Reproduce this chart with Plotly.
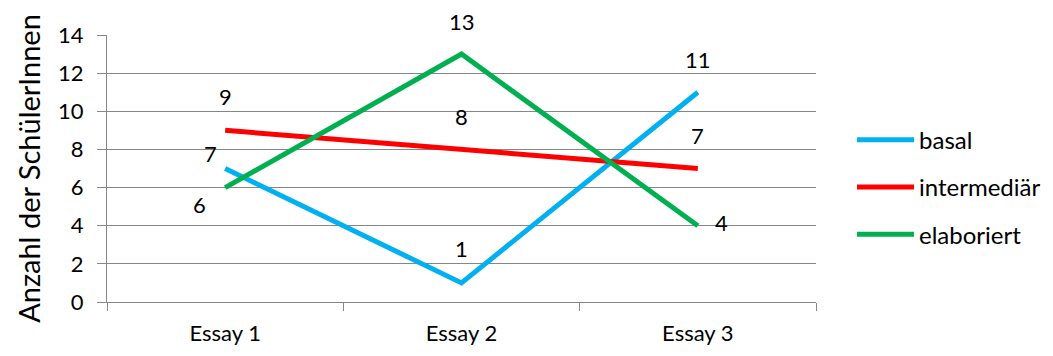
import plotly.graph_objects as go

essays = ["Essay 1", "Essay 2", "Essay 3"]
basal = [7, 1, 11]
intermediaer = [9, 8, 7]
elaboriert = [6, 13, 4]
y_ticks = [0, 2, 4, 6, 8, 10, 12, 14]

series = [
    ("basal", basal, "#00B0F0"),
    ("intermediär", intermediaer, "#FF0000"),
    ("elaboriert", elaboriert, "#00B050"),
]

# pixel offsets of each value label relative to its point
label_offsets = {
    "basal": [(-15, 15), (0, 34), (0, 33)],
    "intermediär": [(0, 34), (0, 33), (0, 33)],
    "elaboriert": [(-26, -17), (0, 33), (24, 3)],
}

FONT = "Lato"
fig = go.Figure()
for name, vals, color in series:
    fig.add_trace(go.Scatter(
        x=essays, y=vals, name=name, mode="lines",
        line=dict(color=color, width=5),
        legendgroup=name,
    ))
    for cat, v, (dx, dy) in zip(essays, vals, label_offsets[name]):
        fig.add_annotation(
            x=cat, y=v, text=str(v), showarrow=False,
            xshift=dx, yshift=dy,
            font=dict(family=FONT, size=22, color="#000000"),
        )

fig.update_layout(
    width=1053, height=356,
    margin=dict(l=107, r=237, t=35, b=54, autoexpand=False),
    paper_bgcolor="white", plot_bgcolor="white",
    font=dict(family=FONT, color="#000000"),
    showlegend=True,
    legend=dict(
        x=1.0508, xanchor="left", xref="paper",
        y=0.43, yanchor="middle",
        font=dict(family=FONT, size=24, color="#000000"),
        tracegroupgap=13, itemwidth=57,
        bgcolor="rgba(0,0,0,0)",
    ),
)
fig.update_xaxes(
    type="category", range=[-0.5, 2.5],
    showline=True, linecolor="#868686", linewidth=1,
    ticks="outside", tickson="boundaries", ticklen=8, tickcolor="#868686",
    showgrid=False, zeroline=False,
    ticklabelstandoff=12,
    tickfont=dict(family=FONT, size=22, color="#000000"),
)
fig.update_yaxes(
    range=[0, 14], tickvals=y_ticks, ticktext=[str(t) for t in y_ticks],
    showline=True, linecolor="#868686", linewidth=1,
    ticks="outside", ticklen=9, tickcolor="#868686",
    showgrid=True, gridcolor="#868686", gridwidth=1, zeroline=False,
    ticklabelstandoff=9,
    tickfont=dict(family=FONT, size=22, color="#000000"),
    title=dict(text="Anzahl der SchülerInnen", standoff=8,
               font=dict(family=FONT, size=29, color="#000000")),
)

fig.write_html("out.html")
